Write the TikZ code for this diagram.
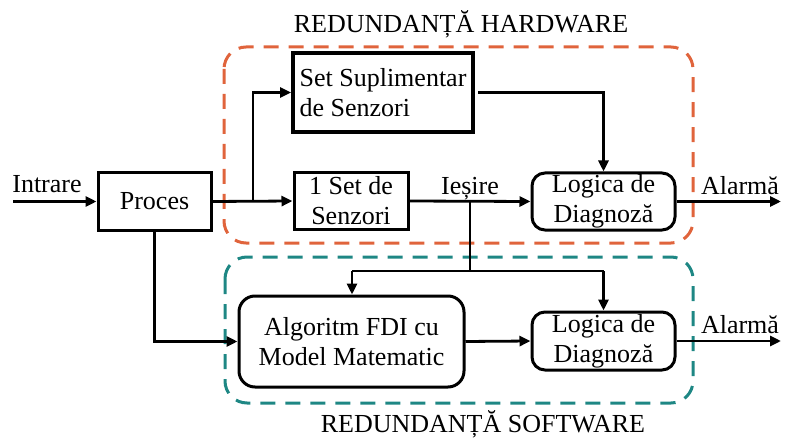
\documentclass[tikz,border=0pt]{standalone}
\usepackage{fontspec}
\setmainfont{Liberation Serif}
\usetikzlibrary{arrows.meta}
\definecolor{hwcol}{RGB}{224,100,60}
\definecolor{swcol}{RGB}{30,135,132}
\begin{document}
\begin{tikzpicture}[x=1pt,y=-1pt,
  font=\fontsize{26}{30}\selectfont,
  blk/.style={draw,line width=3pt,inner sep=0pt,align=center,fill=white},
  rblk/.style={blk,rounded corners=13pt},
  conn/.style={line width=2.8pt},
  arr/.style={conn,-{Triangle[length=11pt,width=10pt]}},
  hwbox/.style={draw=hwcol,line width=3pt,dash pattern=on 15pt off 10pt,rounded corners=22pt},
  swbox/.style={draw=swcol,line width=3pt,dash pattern=on 15pt off 10pt,rounded corners=22pt},
  lbl/.style={inner sep=0pt}]
\useasboundingbox (0,0) rectangle (785,441);
% dashed regions
\draw[hwbox] (224,47) rectangle (693,243);
\draw[swbox] (225,257) rectangle (693,403);
\node[lbl] (thw) at (461,24) {REDUNDANȚĂ HARDWARE};
\node[lbl] (tsw) at (483,424) {REDUNDANȚĂ SOFTWARE};
% blocks
\node[blk,minimum width=113pt,minimum height=57pt] (proc) at (154.5,201.5) {Proces};
\node[blk,line width=3.8pt,align=left,minimum width=180pt,minimum height=79pt] (sup) at (383,92.5) {Set Suplimentar\\de Senzori};
\node[blk,minimum width=114pt,minimum height=56pt] (s1) at (351,201) {1 Set de\\Senzori};
\node[rblk,minimum width=143pt,minimum height=57pt] (log1) at (603.5,201.5) {Logica de\\Diagnoză};
\node[rblk,rounded corners=16pt,minimum width=225pt,minimum height=91pt] (alg) at (351.5,341.5) {Algoritm FDI cu\\Model Matematic};
\node[rblk,minimum width=143pt,minimum height=58pt] (log2) at (603.5,341) {Logica de\\Diagnoză};
% coordinates
\coordinate (in) at (13,201.5);
\coordinate (b1) at (253,201.5);
\coordinate (b1u) at (253,92.5);
\coordinate (b2) at (470,201.5);
\coordinate (b2d) at (470,271);
\coordinate (hL) at (352,271);
\coordinate (hR) at (603.5,271);
\coordinate (supo) at (478,92.5);
\coordinate (supc) at (603.5,92.5);
\coordinate (pd) at (154.5,341.5);
\coordinate (out1) at (781,201.5);
\coordinate (out2) at (781,341);
% connectors
\draw[arr] (in) -- (proc.west);
\node[lbl,anchor=base] (tin) at (47,193) {Intrare};
\draw[arr] (proc.east) -- (s1.west);
\draw[arr] (b1) -- (b1u) -- (sup.west);
\draw[arr] (s1.east) -- (log1.west);
\node[lbl,anchor=base] (tout) at (470,194) {Ieșire};
\draw[arr] (supo) -- (supc) -- (log1.north);
\draw[arr] (log1.east) -- (out1);
\node[lbl,anchor=base] (ta1) at (740,195) {Alarmă};
\draw[conn] (b2) -- (b2d);
\draw[conn] (hL) -- (hR);
\draw[arr] (hL) -- (alg.north -| hL);
\draw[arr] (hR) -- (log2.north);
\draw[arr] (proc.south) -- (pd) -- (alg.west);
\draw[arr] (alg.east) -- (log2.west);
\draw[arr] (log2.east) -- (out2);
\node[lbl,anchor=base] (ta2) at (740,333) {Alarmă};
\end{tikzpicture}
\end{document}
